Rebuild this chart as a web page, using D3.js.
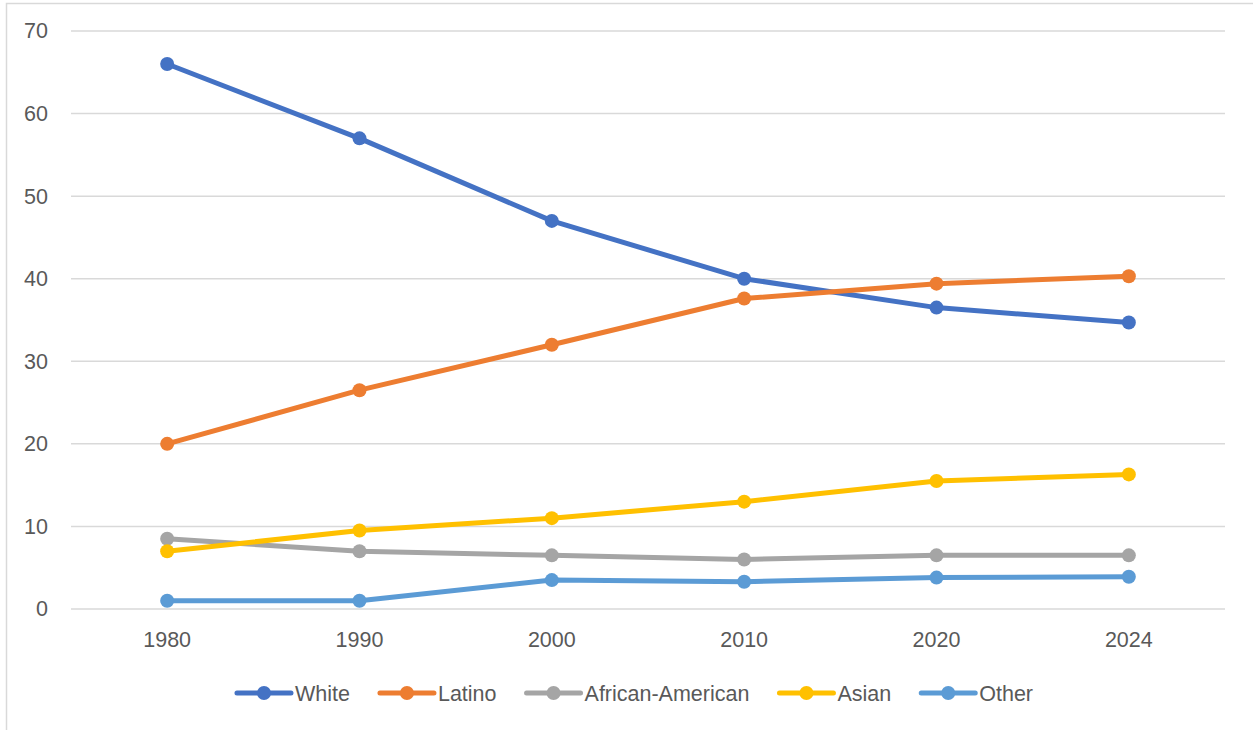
<!DOCTYPE html>
<html>
<head>
<meta charset="utf-8">
<script src="https://cdn.jsdelivr.net/npm/d3@7"></script>
<style>
  html, body { margin: 0; padding: 0; background: #fff; }
  svg { display: block; }
  text { font-family: "Liberation Sans", Arial, sans-serif; fill: #595959; }
</style>
</head>
<body>
<svg id="chart" width="1253" height="730"></svg>
<script>
const years = ["1980", "1990", "2000", "2010", "2020", "2024"];
const white = [66, 57, 47, 40, 36.5, 34.7];
const latino = [20, 26.5, 32, 37.6, 39.4, 40.3];
const africanAmerican = [8.5, 7, 6.5, 6, 6.5, 6.5];
const asian = [7, 9.5, 11, 13, 15.5, 16.3];
const other = [1, 1, 3.5, 3.3, 3.8, 3.9];
const yTicks = [0, 10, 20, 30, 40, 50, 60, 70];
const seriesNames = ["White", "Latino", "African-American", "Asian", "Other"];
const seriesColors = ["#4472C4", "#ED7D31", "#A5A5A5", "#FFC000", "#5B9BD5"];

const series = [white, latino, africanAmerican, asian, other].map((vals, i) => ({
  name: seriesNames[i], color: seriesColors[i], values: vals
}));

const svg = d3.select("#chart");
const W = 1253, H = 730;
const plot = { left: 71, right: 1225, top: 31, bottom: 609 };
const fontSize = 21.5;
const lw = 5, mr = 7;

// outer border
svg.append("rect")
  .attr("x", 6.5).attr("y", 3.5)
  .attr("width", W + 20).attr("height", H + 20)
  .attr("fill", "none").attr("stroke", "#D9D9D9").attr("stroke-width", 1.5);

const x = d3.scaleBand().domain(years).range([plot.left, plot.right]);
const y = d3.scaleLinear().domain([0, 70]).range([plot.bottom, plot.top]);
const cx = d => x(d) + x.bandwidth() / 2;

// gridlines
svg.append("g").selectAll("line").data(yTicks).join("line")
  .attr("x1", plot.left).attr("x2", plot.right)
  .attr("y1", d => y(d)).attr("y2", d => y(d))
  .attr("stroke", "#D9D9D9").attr("stroke-width", 1.5);

// y axis
const yAxis = d3.axisLeft(y).tickValues(yTicks).tickSize(0).tickPadding(0);
const gy = svg.append("g").attr("transform", `translate(${plot.left - 23},0)`).call(yAxis);
gy.select(".domain").remove();
gy.selectAll("text").style("font-size", fontSize + "px")
  .style("font-family", "'Liberation Sans', Arial, sans-serif").attr("fill", "#595959");

// x axis
const xAxis = d3.axisBottom(x).tickSize(0).tickPadding(0);
const gx = svg.append("g").attr("transform", `translate(0,${plot.bottom + 23})`).call(xAxis);
gx.select(".domain").remove();
gx.selectAll("text").style("font-size", fontSize + "px")
  .style("font-family", "'Liberation Sans', Arial, sans-serif").attr("fill", "#595959");

// lines
const line = d3.line().x((d, i) => cx(years[i])).y(d => y(d));
const sg = svg.append("g").selectAll("g").data(series).join("g");
sg.append("path")
  .attr("d", d => line(d.values))
  .attr("fill", "none").attr("stroke", d => d.color)
  .attr("stroke-width", lw).attr("stroke-linejoin", "round").attr("stroke-linecap", "round");
sg.selectAll("circle").data(d => d.values.map((v, i) => ({ v, i, color: d.color }))).join("circle")
  .attr("cx", d => cx(years[d.i])).attr("cy", d => y(d.v))
  .attr("r", mr).attr("fill", d => d.color);

// legend
const legendY = 693;
const lineLen = 54, textGap = 4, itemGap = 30;
const lg = svg.append("g");
const items = lg.selectAll("g").data(series).join("g");
items.append("line")
  .attr("x1", 0).attr("x2", lineLen).attr("y1", 0).attr("y2", 0)
  .attr("stroke", d => d.color).attr("stroke-width", lw).attr("stroke-linecap", "round");
items.append("circle").attr("cx", lineLen / 2).attr("cy", 0).attr("r", mr).attr("fill", d => d.color);
items.append("text")
  .attr("x", lineLen + textGap).attr("y", 0).attr("dy", "0.35em")
  .style("font-size", fontSize + "px").text(d => d.name);
let widths = [];
items.each(function () { widths.push(this.querySelector("text").getComputedTextLength()); });
const itemW = widths.map(w => lineLen + textGap + w);
const total = d3.sum(itemW) + itemGap * (itemW.length - 1);
let pos = 635 - total / 2;
items.attr("transform", (d, i) => {
  const t = `translate(${pos},${legendY})`;
  pos += itemW[i] + itemGap;
  return t;
});
</script>
</body>
</html>
